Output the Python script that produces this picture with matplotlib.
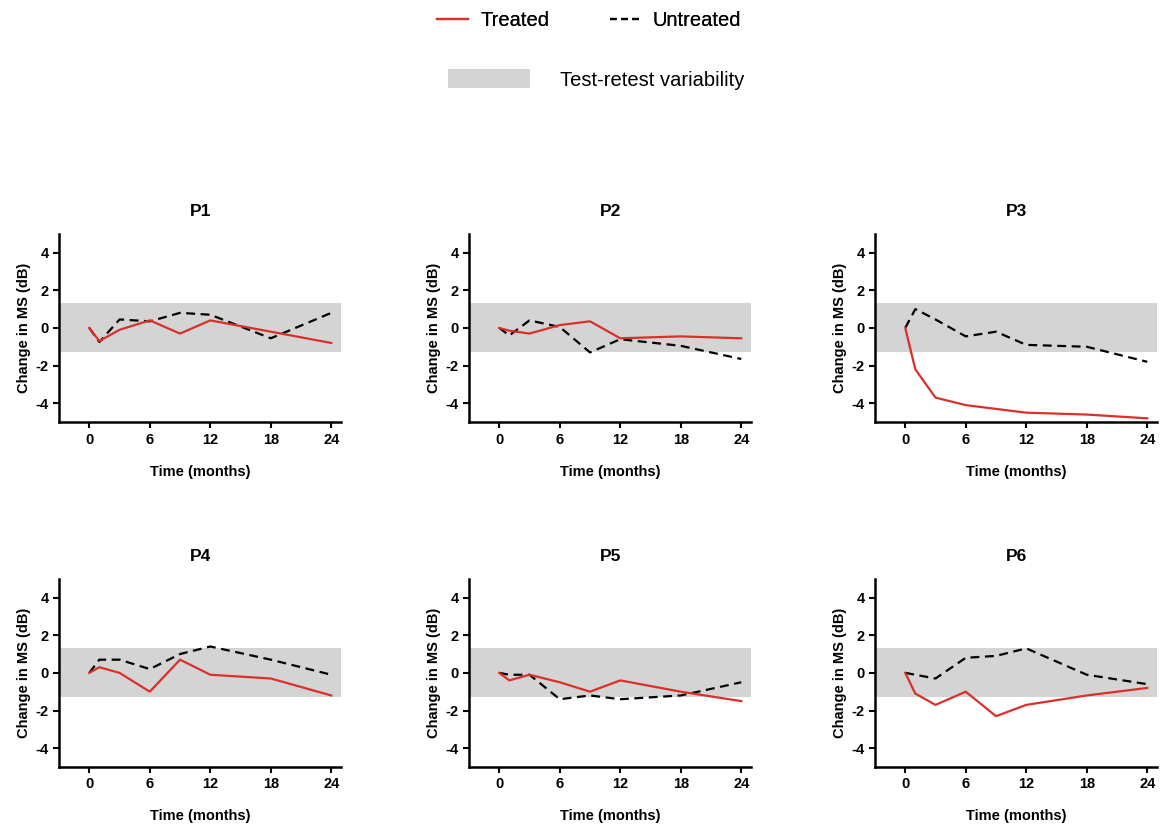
import matplotlib.pyplot as plt
from matplotlib.lines import Line2D
from matplotlib.patches import Patch

plt.rcParams['font.family'] = ['Liberation Sans', 'DejaVu Sans']
plt.rcParams['axes.unicode_minus'] = False

# time points (months)
months = [0, 1, 3, 6, 9, 12, 18, 24]
panels = ['P1', 'P2', 'P3', 'P4', 'P5', 'P6']

treated = {
    'P1': [0, -0.7, -0.1, 0.4, -0.3, 0.4, -0.2, -0.8],
    'P2': [0, -0.15, -0.3, 0.15, 0.35, -0.55, -0.45, -0.55],
    'P3': [0, -2.2, -3.7, -4.1, -4.3, -4.5, -4.6, -4.8],
    'P4': [0, 0.3, 0.0, -1.0, 0.7, -0.1, -0.3, -1.2],
    'P5': [0, -0.4, -0.1, -0.5, -1.0, -0.4, -1.0, -1.5],
    'P6': [0, -1.1, -1.7, -1.0, -2.3, -1.7, -1.2, -0.8],
}
untreated = {
    'P1': [0, -0.75, 0.45, 0.35, 0.8, 0.7, -0.55, 0.8],
    'P2': [0, -0.4, 0.4, 0.05, -1.3, -0.6, -0.95, -1.65],
    'P3': [0, 1.0, 0.45, -0.45, -0.2, -0.9, -1.0, -1.8],
    'P4': [0, 0.7, 0.7, 0.2, 1.0, 1.4, 0.7, -0.1],
    'P5': [0, -0.1, -0.1, -1.4, -1.2, -1.4, -1.2, -0.5],
    'P6': [0, -0.1, -0.3, 0.8, 0.9, 1.3, -0.1, -0.6],
}
band = 1.3   # test-retest variability (+/- dB)

RED = '#d9302a'
GREY = '#d4d4d4'

fig = plt.figure(figsize=(11.62, 8.26), dpi=100)

lefts = [0.0508, 0.4036, 0.753]
bottoms = [0.489, 0.0714]
w, h = 0.243, 0.228

for i, p in enumerate(panels):
    ax = fig.add_axes([lefts[i % 3], bottoms[i // 3], w, h])
    ax.axhspan(-band, band, color=GREY, lw=0, zorder=0)
    ax.plot(months, untreated[p], color='black', ls=(0, (4, 2.5)), lw=1.6, zorder=2)
    ax.plot(months, treated[p], color=RED, lw=1.6, zorder=3)
    ax.set_xlim(-3, 25)
    ax.set_ylim(-5, 5)
    ax.set_xticks([0, 6, 12, 18, 24])
    ax.set_yticks([-4, -2, 0, 2, 4])
    for s in ['top', 'right']:
        ax.spines[s].set_visible(False)
    for s in ['left', 'bottom']:
        ax.spines[s].set_linewidth(1.8)
    ax.tick_params(direction='out', width=1.5, length=4, labelsize=10.5)
    for lab in ax.get_xticklabels() + ax.get_yticklabels():
        lab.set_fontweight('bold')
    ax.set_title(p, fontsize=12.5, fontweight='bold', pad=13)
    ax.set_xlabel('Time (months)', fontsize=10.5, fontweight='bold', labelpad=13)
    ax.set_ylabel('Change in MS (dB)', fontsize=10.5, fontweight='bold', labelpad=3)

h1 = [Line2D([], [], color=RED, lw=1.6),
      Line2D([], [], color='black', ls=(0, (3, 2)), lw=1.6)]
leg1 = fig.legend(h1, ['Treated', 'Untreated'], loc='center', bbox_to_anchor=(0.507, 0.975),
                  ncol=2, frameon=False, fontsize=14.5, handlelength=1.55, columnspacing=3.0,
                  handletextpad=0.6)
h2 = [Patch(color=GREY, lw=0)]
leg2 = fig.legend(h2, ['Test-retest variability'], loc='center', bbox_to_anchor=(0.513, 0.904),
                  frameon=False, fontsize=14.5, handlelength=4.1, handleheight=1.1,
                  handletextpad=1.5)
fig.add_artist(leg1)

fig.savefig('out.png', dpi=100)
